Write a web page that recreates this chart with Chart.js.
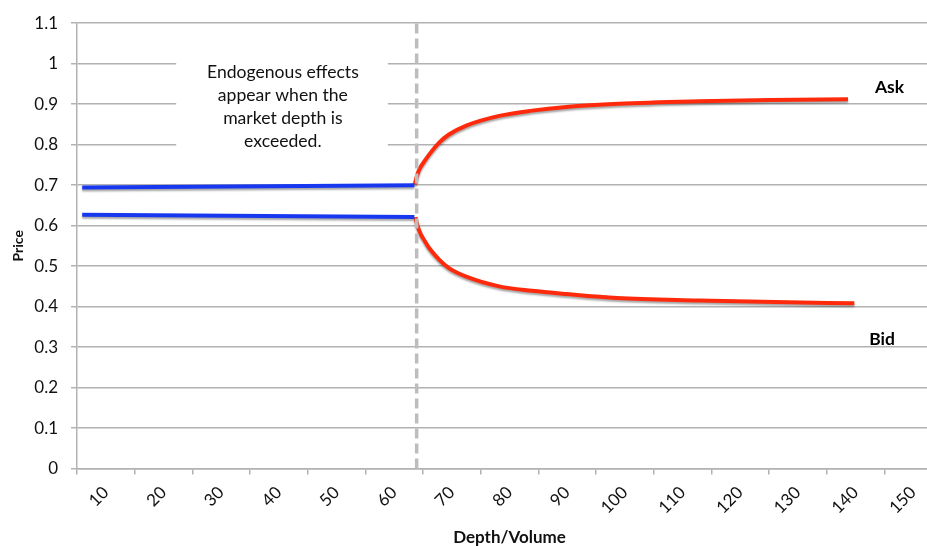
<!DOCTYPE html>
<html>
<head>
<meta charset="utf-8">
<script src="https://cdn.jsdelivr.net/npm/chart.js@4.4.1/dist/chart.umd.min.js"></script>
<style>
html,body{margin:0;padding:0;background:#fff;overflow:hidden;}
#wrap{position:relative;width:945px;height:556px;}
</style>
</head>
<body>
<div id="wrap"><canvas id="c" width="945" height="556"></canvas></div>
<script>
// ---- data ----
const xTickLabels = [10,20,30,40,50,60,70,80,90,100,110,120,130,140,150];
const yTickValues = [0,0.1,0.2,0.3,0.4,0.5,0.6,0.7,0.8,0.9,1,1.1];

const preAskX = [5.9, 63.5];
const preAskY = [0.694, 0.700];
const preBidX = [5.9, 63.5];
const preBidY = [0.627, 0.621];

const askX = [63.6, 63.9, 64.4, 65.2, 66.1, 67.8, 69.5, 72.5, 78.2, 83.9, 89.8, 98.9, 112.8, 125.0, 138.7];
const askY = [0.702, 0.720, 0.740, 0.758, 0.776, 0.805, 0.825, 0.847, 0.871, 0.884, 0.893, 0.901, 0.907, 0.910, 0.912];
const bidX = [63.7, 64.0, 64.5, 65.3, 66.1, 67.8, 69.5, 72.5, 78.2, 83.9, 89.8, 98.7, 112.8, 126.0, 139.8];
const bidY = [0.621, 0.602, 0.582, 0.562, 0.544, 0.516, 0.495, 0.474, 0.450, 0.439, 0.431, 0.421, 0.415, 0.411, 0.408];

const depthLimitX = [63.9, 63.9];
const depthLimitY = [0, 1.111];

const noteLines = ["Endogenous effects", "appear when the", "market depth is", "exceeded."];

const toPts = (xs, ys) => xs.map((x, i) => ({x: x, y: ys[i]}));

const FONT = "Lato, 'Open Sans', sans-serif";
const GRID = '#b2b2b2';
const BLUE = '#1838f0';
const RED = '#ff2a0c';

const annotations = {
  id: 'annotations',
  beforeDatasetsDraw(chart) {
    const {ctx, scales: {x, y}} = chart;
    const x0 = x.getPixelForValue(22.2), x1 = x.getPixelForValue(58.9);
    const y0 = y.getPixelForValue(1.06), y1 = y.getPixelForValue(0.75);
    ctx.save();
    ctx.fillStyle = '#ffffff';
    ctx.fillRect(x0, y0, x1 - x0, y1 - y0);
    ctx.fillStyle = '#111';
    ctx.font = "17.6px " + FONT;
    ctx.textAlign = 'center';
    ctx.textBaseline = 'middle';
    const cx = x.getPixelForValue(40.7);
    const lineVals = [0.978, 0.922, 0.865, 0.809];
    noteLines.forEach((t, i) => ctx.fillText(t, cx, y.getPixelForValue(lineVals[i])));
    ctx.restore();
  },
  beforeDatasetDraw(chart, args) {
    if (args.index >= 1) {
      const ctx = chart.ctx;
      ctx.save();
      ctx.shadowColor = 'rgba(0,0,0,0.35)';
      ctx.shadowBlur = 2;
      ctx.shadowOffsetX = 0;
      ctx.shadowOffsetY = 2;
    }
  },
  afterDatasetDraw(chart, args) {
    if (args.index >= 1) chart.ctx.restore();
  },
  afterDatasetsDraw(chart) {
    const {ctx, scales: {x, y}} = chart;
    ctx.save();
    ctx.fillStyle = '#000';
    ctx.font = "bold 17.5px " + FONT;
    ctx.textAlign = 'center';
    ctx.textBaseline = 'middle';
    ctx.fillText('Ask', x.getPixelForValue(145.9), y.getPixelForValue(0.941));
    ctx.fillText('Bid', x.getPixelForValue(144.6), y.getPixelForValue(0.320));
    ctx.restore();
  }
};

new Chart(document.getElementById('c'), {
  type: 'line',
  data: {
    datasets: [
      {label: 'Market depth', data: toPts(depthLimitX, depthLimitY), borderColor: '#bdbdbd', borderWidth: 3.5,
       borderDash: [10, 5], pointRadius: 0, clip: false},
      {label: 'Ask (within depth)', data: toPts(preAskX, preAskY), borderColor: BLUE, borderWidth: 4, pointRadius: 0},
      {label: 'Bid (within depth)', data: toPts(preBidX, preBidY), borderColor: BLUE, borderWidth: 4, pointRadius: 0},
      {label: 'Ask', data: toPts(askX, askY), borderColor: RED, borderWidth: 4, pointRadius: 0,
       cubicInterpolationMode: 'monotone'},
      {label: 'Bid', data: toPts(bidX, bidY), borderColor: RED, borderWidth: 4, pointRadius: 0,
       cubicInterpolationMode: 'monotone'}
    ]
  },
  options: {
    responsive: false,
    animation: false,
    layout: {padding: {top: 19.5, right: 3, left: 0, bottom: 8}},
    plugins: {legend: {display: false}, tooltip: {enabled: false}},
    scales: {
      x: {
        type: 'linear', min: 5, max: 155,
        afterBuildTicks: s => { s.ticks = xTickLabels.map(v => ({value: v})); },
        afterFit: s => { s.height = 556 - 8 - 468.5; },
        ticks: {autoSkip: false, minRotation: 45, maxRotation: 45, color: '#111',
                font: {family: FONT, size: 17}, padding: 8},
        grid: {offset: true, drawOnChartArea: false, drawTicks: true, tickLength: 6, color: GRID, lineWidth: 1.5},
        border: {display: true, color: GRID, width: 1.5},
        title: {display: true, text: 'Depth/Volume', color: '#111',
                font: {family: FONT, size: 17, weight: 'bold'}, padding: {top: 0, bottom: 0}}
      },
      y: {
        type: 'linear', min: 0, max: 1.1,
        afterBuildTicks: s => { s.ticks = yTickValues.map(v => ({value: v})); },
        afterFit: s => { s.width = 77; },
        ticks: {color: '#111', font: {family: FONT, size: 17}, padding: 13,
                callback: v => String(Math.round(v * 10) / 10)},
        grid: {color: GRID, lineWidth: 1.5, tickLength: 6},
        border: {display: true, color: GRID, width: 1.5},
        title: {display: true, text: 'Price', color: '#111',
                font: {family: FONT, size: 14, weight: 'bold'}, padding: {top: 10, bottom: 0}}
      }
    }
  },
  plugins: [annotations]
});
</script>
</body>
</html>
